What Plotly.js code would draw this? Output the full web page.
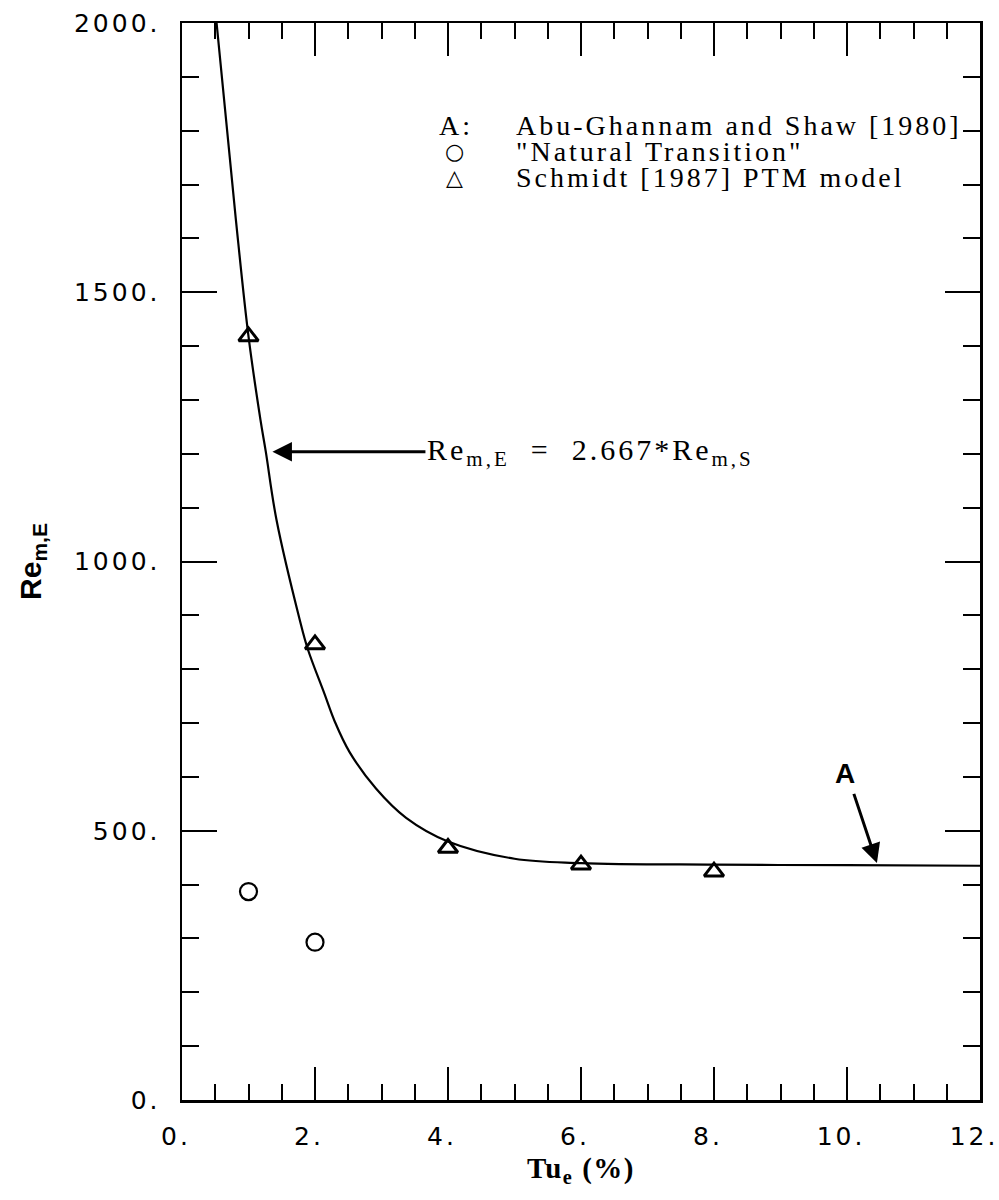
<!DOCTYPE html>
<html>
<head>
<meta charset="utf-8">
<script src="https://cdn.plot.ly/plotly-3.0.1.min.js"></script>
<style>
  html, body { margin: 0; padding: 0; background: #fff; }
  #chart { width: 999px; height: 1200px; }
  .xtick text, .ytick text { letter-spacing: 3px; }
  .annotation-text { letter-spacing: 3px; }
  .xtitle { letter-spacing: 1.5px; }
</style>
</head>
<body>
<div id="chart"></div>
<script>
// ---- data ----
const curveX = [0.52, 0.81, 1.0, 1.18, 1.26, 1.42, 1.77, 1.89, 2.14, 2.3, 2.52, 2.92, 3.37, 4.0, 5.0, 6.0, 8.0, 10.0, 12.0];
const curveY = [2000, 1635, 1418, 1263, 1204, 1078, 892, 838, 755, 702, 646, 578, 524, 480, 448, 440, 437, 436, 435];

const ptmX = [1, 2, 4, 6, 8];
const ptmY = [1418, 846, 468, 437, 424];

const naturalX = [1, 2];
const naturalY = [387, 293];

const xTickVals = [0, 2, 4, 6, 8, 10, 12];
const xTickText = ['0.', '2.', '4.', '6.', '8.', '10.', '12.'];
const yTickVals = [0, 500, 1000, 1500, 2000];
const yTickText = ['0.', '500.', '1000.', '1500.', '2000.'];

const legendLabels = ['Abu-Ghannam and Shaw [1980]', '"Natural Transition"', 'Schmidt [1987] PTM model'];
const legendKeys = ['A:', '\u25CB', '\u25B3'];

// ---- layout geometry ----
const M = {l: 182, r: 19, t: 23, b: 100};
const W = 999, H = 1200;
const pw = W - M.l - M.r, ph = H - M.t - M.b;
const px2paperX = px => (px - M.l) / pw;
const px2paperY = py => 1 - (py - M.t) / ph;

const traces = [
  {x: curveX, y: curveY, mode: 'lines', type: 'scatter',
   line: {color: '#000', width: 2.2, shape: 'spline', smoothing: 1},
   hoverinfo: 'skip', showlegend: false},
  {x: ptmX, y: ptmY, mode: 'markers', type: 'scatter',
   marker: {symbol: 'triangle-up-open', size: 17, color: '#000', line: {color: '#000', width: 3}},
   showlegend: false},
  {x: naturalX, y: naturalY, mode: 'markers', type: 'scatter',
   marker: {symbol: 'circle-open', size: 17, color: '#000', line: {color: '#000', width: 2.2}},
   showlegend: false}
];

const tickFont = {family: 'DejaVu Sans', size: 25, color: '#000'};

const annotations = [];
const legendRowsY = [125, 151, 177];
legendKeys.forEach((k, i) => {
  annotations.push({xref: 'paper', yref: 'paper', x: px2paperX(456), y: px2paperY(legendRowsY[i]),
    text: k, showarrow: false, xanchor: 'center', yanchor: 'middle',
    font: {family: i === 0 ? 'Liberation Serif' : 'DejaVu Sans', size: i === 0 ? 28 : 22, color: '#000', weight: i === 0 ? 'normal' : 'bold'}});
  annotations.push({xref: 'paper', yref: 'paper', x: px2paperX(514), y: px2paperY(legendRowsY[i]),
    text: legendLabels[i], showarrow: false, xanchor: 'left', yanchor: 'middle',
    font: {family: 'Liberation Serif', size: 28, color: '#000'}});
});

// equation with arrow pointing to the curve
annotations.push({xref: 'x', yref: 'y', x: 1.36, y: 1204,
  text: 'Re<sub>m,E</sub>&nbsp;&nbsp;=&nbsp;&nbsp;2.667*Re<sub>m,S</sub>',
  showarrow: true, ax: 318, ay: 0, arrowhead: 2, arrowsize: 1.3, arrowwidth: 3, arrowcolor: '#000',
  font: {family: 'Liberation Serif', size: 30, color: '#000'}});

// "A" marker with arrow
annotations.push({xref: 'x', yref: 'y', x: 10.45, y: 440,
  text: 'A', showarrow: true, ax: -30, ay: -90, arrowhead: 2, arrowsize: 1.3, arrowwidth: 3, arrowcolor: '#000',
  standoff: 0, startstandoff: 4,
  font: {family: 'Liberation Sans', size: 28, color: '#000', weight: 'bold'}});

const layout = {
  width: W, height: H,
  margin: M,
  paper_bgcolor: '#fff', plot_bgcolor: '#fff',
  showlegend: false,
  xaxis: {
    range: [0, 12], tickvals: xTickVals, ticktext: xTickText,
    ticks: 'inside', ticklen: 33, tickwidth: 2, tickcolor: '#000',
    minor: {dtick: 0.5, ticks: 'inside', ticklen: 16, tickwidth: 2, tickcolor: '#000', showgrid: false},
    showline: true, linecolor: '#000', linewidth: 2.5, mirror: 'ticks',
    showgrid: false, zeroline: false, ticklabeloverflow: 'allow', ticklabelshift: -6,
    tickfont: tickFont, ticklabelstandoff: 12,
    title: {text: 'Tu<sub>e</sub> (%)', font: {family: 'Liberation Serif', size: 29, color: '#000', weight: 'bold'}, standoff: 8}
  },
  yaxis: {
    range: [0, 2000], tickvals: yTickVals, ticktext: yTickText,
    ticks: 'inside', ticklen: 35, tickwidth: 2, tickcolor: '#000',
    minor: {dtick: 100, ticks: 'inside', ticklen: 17, tickwidth: 2, tickcolor: '#000', showgrid: false},
    showline: true, linecolor: '#000', linewidth: 2.5, mirror: 'ticks',
    showgrid: false, zeroline: false, ticklabeloverflow: 'allow',
    tickfont: tickFont, ticklabelstandoff: 14,
    title: {text: 'Re<sub>m,E</sub>', font: {family: 'Liberation Sans', size: 30, color: '#000', weight: 'bold'}, standoff: 24}
  },
  annotations: annotations
};

Plotly.newPlot('chart', traces, layout, {staticPlot: true, displayModeBar: false});
</script>
</body>
</html>
